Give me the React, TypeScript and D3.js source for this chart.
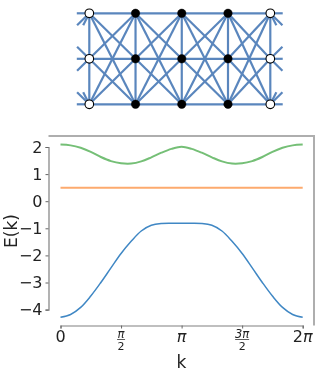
import { useEffect, useRef } from 'react';
import * as d3 from 'd3';

// k in units of pi/12
const kSteps = [0, 1, 2, 3, 4, 5, 6, 7, 8, 9, 10, 11, 12, 13, 14, 15, 16, 17, 18, 19, 20, 21, 22, 23, 24];
const lowerBand = [-4.28, -4.18, -3.92, -3.5, -3.0, -2.46, -1.93, -1.48, -1.1, -0.89, -0.82, -0.81, -0.81, -0.81, -0.82, -0.89, -1.1, -1.48, -1.93, -2.46, -3.0, -3.5, -3.92, -4.18, -4.28];
const flatBand = [0.5, 0.5, 0.5, 0.5, 0.5, 0.5, 0.5, 0.5, 0.5, 0.5, 0.5, 0.5, 0.5, 0.5, 0.5, 0.5, 0.5, 0.5, 0.5, 0.5, 0.5, 0.5, 0.5, 0.5, 0.5];
const upperBand = [2.09, 2.06, 1.97, 1.82, 1.63, 1.48, 1.4, 1.39, 1.47, 1.62, 1.79, 1.93, 2.01, 1.93, 1.79, 1.62, 1.47, 1.39, 1.4, 1.48, 1.63, 1.82, 1.97, 2.06, 2.09];

const yTicks = [2, 1, 0, -1, -2, -3, -4];
const xTicks = [0, 6, 12, 18, 24];

const latticeCols = [0, 1, 2, 3, 4];
const latticeRows = [0, 1, 2];

const App = () => {
  const svgRef = useRef<SVGSVGElement>(null);

  useEffect(() => {
    const root = d3.select(svgRef.current);
    root.selectAll('*').remove();

    // the reference is a downscaled image, a little blur gets the same soft edges
    root.append('filter').attr('id', 'soft')
      .append('feGaussianBlur').attr('stdDeviation', 0.35);
    const svg = root.append('g').attr('filter', 'url(#soft)');

    // lattice
    const colX = d3.scaleLinear().domain([-1, 0, 3, 4, 5]).range([43, 89.3, 228, 270.3, 316.3]);
    const rowY = d3.scaleLinear().domain([0, 2]).range([13.3, 104.3]);
    const net = svg.append('g').attr('stroke', '#5a86bd').attr('stroke-width', 2.2).attr('fill', 'none');

    const edge = (c0: number, r0: number, c1: number, r1: number) => {
      net.append('line')
        .attr('x1', colX(c0)).attr('y1', rowY(r0))
        .attr('x2', colX(c1)).attr('y2', rowY(r1));
    };
    const stub = (c0: number, r0: number, c1: number, r1: number) => {
      const dy = rowY(r1) - rowY(r0);
      const t = dy === 0 ? 0.27 : 12 / Math.abs(dy);
      const x0 = colX(c0);
      const y0 = rowY(r0);
      net.append('line')
        .attr('x1', x0).attr('y1', y0)
        .attr('x2', x0 + (colX(c1) - x0) * t).attr('y2', y0 + dy * t);
    };

    latticeCols.forEach((c) => {
      edge(c, 0, c, 1);
      edge(c, 1, c, 2);
      latticeRows.forEach((r) => {
        latticeRows.forEach((r2) => {
          if (c < 4) edge(c, r, c + 1, r2);
          if (c === 0) stub(c, r, -1, r2);
          if (c === 4) stub(c, r, 5, r2);
        });
      });
    });

    latticeCols.forEach((c) => {
      latticeRows.forEach((r) => {
        const open = c === 0 || c === 4;
        svg.append('circle')
          .attr('cx', colX(c)).attr('cy', rowY(r))
          .attr('r', open ? 4.3 : 4.2)
          .attr('fill', open ? '#fff' : '#000')
          .attr('stroke', '#000')
          .attr('stroke-width', open ? 1.1 : 0.5);
      });
    });

    // band plot
    const x = d3.scaleLinear().domain([0, 24]).range([60.5, 302.7]);
    const y = d3.scaleLinear().domain([-4, 2]).range([309.6, 147]);
    const left = 48.5;
    const right = 314;
    const top = 136;
    const bottom = 325.5;

    const line = d3.line<number>()
      .x((_, i) => x(kSteps[i]))
      .y((d) => y(d))
      .curve(d3.curveCatmullRom);

    const bands: [number[], string, number][] = [
      [lowerBand, '#3f87c4', 1.5],
      [flatBand, '#fdaa6e', 2],
      [upperBand, '#74bf76', 2],
    ];
    bands.forEach(([vals, color, w]) => {
      svg.append('path').attr('d', line(vals)).attr('fill', 'none').attr('stroke', color).attr('stroke-width', w);
    });

    svg.append('line').attr('x1', left).attr('x2', right).attr('y1', top).attr('y2', top).attr('stroke', '#aeaeae').attr('stroke-width', 2);
    svg.append('line').attr('x1', right).attr('x2', right).attr('y1', top - 1).attr('y2', bottom).attr('stroke', '#aeaeae').attr('stroke-width', 2);

    const yAxis = svg.append('g')
      .attr('transform', `translate(${left},0)`)
      .call(d3.axisLeft(y).tickValues(yTicks).tickSize(3).tickPadding(3)
        .tickFormat((d) => String(d).replace('-', '\u2212')));
    const xAxis = svg.append('g')
      .attr('transform', `translate(0,${bottom})`)
      .call(d3.axisBottom(x).tickValues(xTicks).tickSize(3).tickFormat(() => ''));

    [yAxis, xAxis].forEach((a) => {
      a.select('.domain').attr('stroke', '#808080').attr('stroke-width', 1.2);
      a.selectAll('.tick line').attr('stroke', '#666');
    });
    yAxis.selectAll('.tick text')
      .attr('fill', '#222')
      .style('font-family', '"DejaVu Sans"')
      .style('font-size', '16px');

    const label = (tx: number, ty: number, s: string, size: number, italic = false) =>
      svg.append('text')
        .attr('x', tx).attr('y', ty)
        .attr('text-anchor', 'middle')
        .attr('fill', '#222')
        .style('font-family', '"DejaVu Sans"')
        .style('font-style', italic ? 'italic' : 'normal')
        .style('font-size', `${size}px`)
        .text(s);

    // tick labels, the fractions are stacked by hand
    label(x(0), 342, '0', 16);
    label(x(6), 337.5, '\u03c0', 11.5, true);
    svg.append('line').attr('x1', x(6) - 4).attr('x2', x(6) + 4).attr('y1', 339.5).attr('y2', 339.5).attr('stroke', '#333').attr('stroke-width', 0.8);
    label(x(6), 350, '2', 11);
    label(x(12), 342, '\u03c0', 16, true);
    label(x(18), 337.5, '3\u03c0', 11.5, true);
    svg.append('line').attr('x1', x(18) - 7).attr('x2', x(18) + 7).attr('y1', 339.5).attr('y2', 339.5).attr('stroke', '#333').attr('stroke-width', 0.8);
    label(x(18), 350, '2', 11);
    svg.append('text').attr('x', x(24)).attr('y', 342).attr('text-anchor', 'middle').attr('fill', '#222')
      .style('font-family', '"DejaVu Sans"').style('font-size', '16px')
      .call((t) => {
        t.append('tspan').text('2');
        t.append('tspan').style('font-style', 'italic').text('\u03c0');
      });

    label(181.5, 368, 'k', 17);
    svg.append('text')
      .attr('transform', 'translate(17,231) rotate(-90)')
      .attr('text-anchor', 'middle')
      .attr('fill', '#222')
      .style('font-family', '"DejaVu Sans"')
      .style('font-size', '17px')
      .text('E(k)');
  }, []);

  return (
    <svg
      ref={svgRef}
      width={323}
      height={376}
      style={{ position: 'absolute', left: 0, top: 0, background: '#fff' }}
    />
  );
};

export default App;
